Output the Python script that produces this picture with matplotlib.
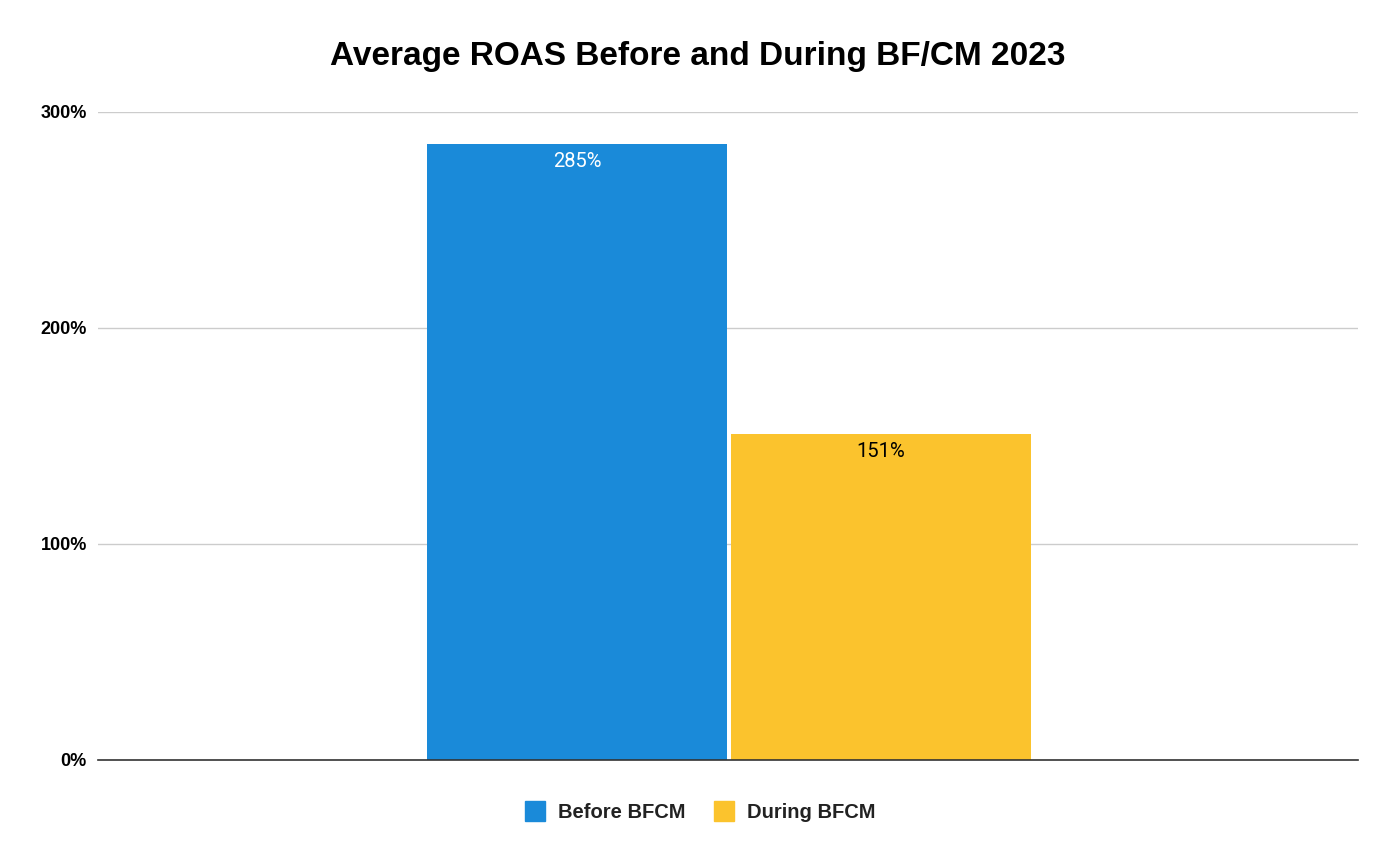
import matplotlib
matplotlib.use("Agg")
import matplotlib.pyplot as plt
from matplotlib.lines import Line2D

series = ["Before BFCM", "During BFCM"]
values = [285, 151]
labels = ["285%", "151%"]
colors = ["#1a8ad9", "#fbc32d"]
label_colors = ["white", "black"]
yticks = [0, 100, 200, 300]
ytick_labels = ["0%", "100%", "200%", "300%"]
title = "Average ROAS Before and During BF/CM 2023"

fig = plt.figure(figsize=(14, 8.64), dpi=100)
ax = fig.add_axes([98/1400, 1-760/864, 1260/1400, 648/864])

offsets = [-0.1198, 0.1214]
width = 0.238
for off, v, c, lab, lc in zip(offsets, values, colors, labels, label_colors):
    ax.bar(off, v, width=width, color=c, zorder=3)
    ax.text(off, v - 8, lab, ha="center", va="center", color=lc,
            fontsize=14.5, family="Roboto", zorder=4)

ax.set_xlim(-0.5, 0.5)
ax.set_ylim(0, 300)
ax.set_yticks(yticks)
ax.set_yticklabels(ytick_labels, fontsize=13, fontweight="bold", family="Liberation Sans")
ax.set_xticks([])
ax.tick_params(axis="y", length=0, pad=8)
ax.grid(axis="y", color="#cccccc", linewidth=1, zorder=0)
for s in ["top", "right", "left"]:
    ax.spines[s].set_visible(False)
ax.spines["bottom"].set_color("#333333")
ax.spines["bottom"].set_linewidth(1.2)
ax.spines["bottom"].set_zorder(5)

fig.text(0.4985, 1-57/864, title, ha="center", va="center", fontsize=24,
         fontweight="bold", family="Liberation Sans")

handles = [Line2D([], [], marker="s", linestyle="none", markersize=15,
                  markerfacecolor=c, markeredgecolor=c) for c in colors]
leg = fig.legend(handles, series, loc="center", bbox_to_anchor=(0.5, 1-813/864),
                 ncol=2, frameon=False, handlelength=1.0, handletextpad=0.65,
                 columnspacing=1.4,
                 prop={"family": "Liberation Sans", "weight": "bold", "size": 14.5})
for t in leg.get_texts():
    t.set_color("#222222")

fig.savefig("out.png", dpi=100)
